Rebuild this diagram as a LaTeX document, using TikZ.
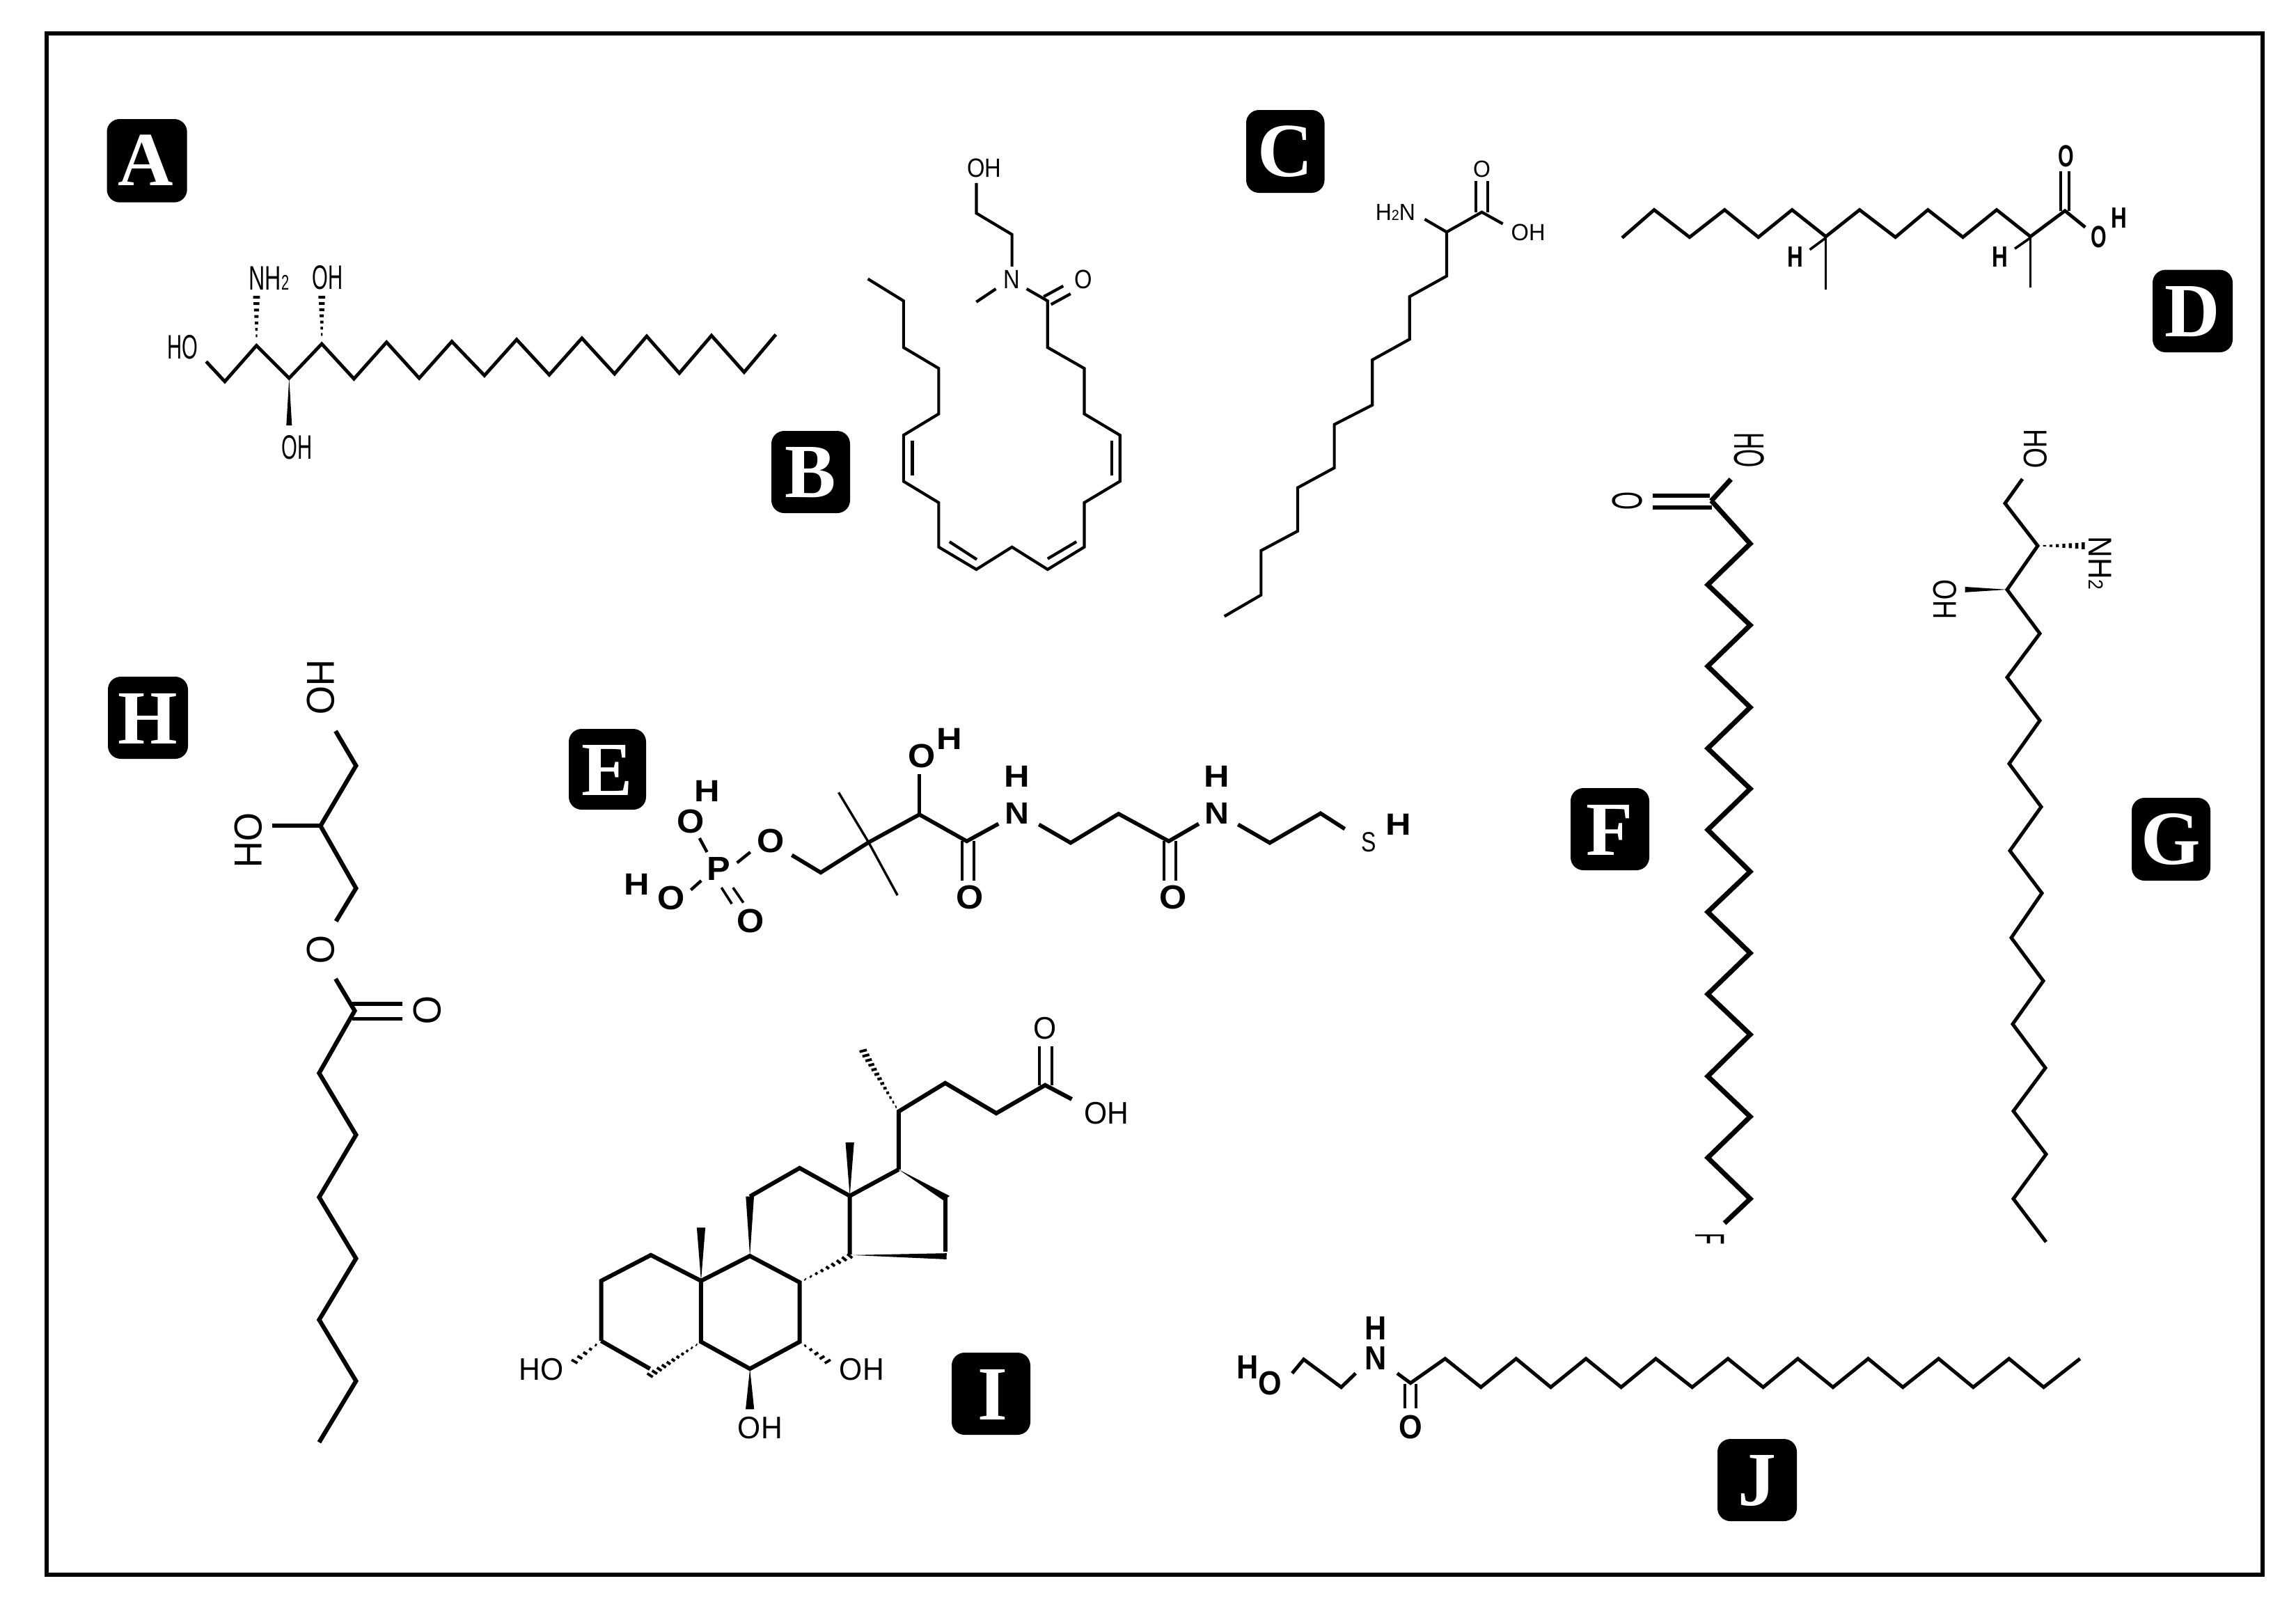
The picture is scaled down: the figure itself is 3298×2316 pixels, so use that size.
\documentclass[tikz,border=0pt]{standalone}
\usepackage{fontspec}
\usetikzlibrary{calc}
\setmainfont{Liberation Sans}
\newfontfamily\tagfont{Liberation Serif}[Scale=1]
\tikzset{
  zm/.style n args={4}{shift={(#1,#2)},xscale=#3,yscale=#4},
  bond/.style={draw=black,line width={#1*0.25pt},line join=miter,line cap=butt},
  tagbox/.style={fill=black,rounded corners=4.6pt},
  tagtext/.style={text=white,inner sep=0,font=\tagfont\bfseries\fontsize{27.5}{27.5}\selectfont},
  frameline/.style={draw=black,line width=1.7pt}
}
\newcommand\atom[6][0]{\node[inner sep=0,rotate=#1] (#2) at (#3) {\fontsize{#4}{#4}\selectfont\scalebox{#5}[1]{#6}};}
\newcommand\wedgebd[3]{%
  \coordinate (wa) at (#1);\coordinate (wb) at (#2);
  \fill[black] (wa) -- ($(wb)!#3pt!90:(wa)$) -- ($(wb)!#3pt!-90:(wa)$) -- cycle;}
\newcommand\hashbd[5]{%
  \coordinate (ha) at (#1);\coordinate (hb) at (#2);
  \foreach \ti in {1,...,#4}{%
    \pgfmathsetmacro\ff{\ti/#4}%
    \pgfmathsetmacro\hw{\ff*#3+0.2}%
    \coordinate (hp) at ($(ha)!\ff!(hb)$);
    \draw[line width=#5pt,black] ($(hp)!\hw pt!90:(ha)$) -- ($(hp)!\hw pt!-90:(ha)$);
  }}
\begin{document}
\begin{tikzpicture}[x=0.25pt,y=-0.25pt]
\useasboundingbox (0,0) rectangle (3298,2316);
\fill[white] (0,0) rectangle (3298,2316);
\draw[frameline] (67,48) rectangle (3250,2262);

% panel tags
\fill[tagbox] (153.5,171) rectangle (268.7,290.7);  \node[tagtext] (tA) at (209,230) {A};
\fill[tagbox] (1108,619) rectangle (1221,737);      \node[tagtext] (tB) at (1164,679) {B};
\fill[tagbox] (1790,158) rectangle (1902.5,277);    \node[tagtext] (tC) at (1846,218) {C};
\fill[tagbox] (3092,387.6) rectangle (3207,506);    \node[tagtext] (tD) at (3149,448) {D};
\fill[tagbox] (817,1047) rectangle (928,1163);      \node[tagtext] (tE) at (872,1106) {E};
\fill[tagbox] (2256,1132) rectangle (2369,1250);    \node[tagtext] (tF) at (2312,1192) {F};
\fill[tagbox] (3062,1146) rectangle (3175,1265);    \node[tagtext] (tG) at (3118,1206) {G};
\fill[tagbox] (155,972) rectangle (270,1090);       \node[tagtext] (tH) at (212,1032) {H};
\fill[tagbox] (1367,1943) rectangle (1480,2061);    \node[tagtext] (tI) at (1426,2003) {I};
\fill[tagbox] (2467,2067) rectangle (2581,2185);    \node[tagtext] (tJ) at (2524,2127) {J};

% ---- A
\begin{scope}[zm={120}{140}{1050/1568}{750/1568}]
\draw[bond=4.8] plot coordinates {(263,793) (303,853) (371,745) (441,843) (511,740) (580,845) (650,735) (720,843) (790,733) (860,835) (929,727) (999,833) (1069,723) (1139,830) (1208,717) (1278,828) (1347,715) (1417,825) (1485,712)};
\hashbd{371,735}{371,600}{1.6}{7}{1}
\hashbd{511,730}{511,600}{1.6}{7}{1}
\wedgebd{441,843}{441,985}{1.5}
\atom{aHO}{213,750}{12.2}{.6}{HO}
\atom{aNH}{398,542}{12.2}{.66}{NH\scalebox{.62}{2}}
\atom{aOHa}{524,540}{12.2}{.6}{OH}
\atom{aOHb}{458,1052}{12.2}{.6}{OH}
\end{scope}

% ---- B and C
\begin{scope}[zm={1180}{120}{1100/1568}{800/1568}]
\draw[bond=4.2] plot coordinates {(95,550) (168,612) (168,743) (240,802) (240,930) (168,990) (168,1120) (240,1180) (240,1305) (317,1368) (390,1305) (463,1368) (538,1305) (538,1180) (611,1120) (611,990) (538,930) (538,802) (463,743) (463,612) (420,578)};
\draw[bond=4.2] (186,1005) -- (186,1103);
\draw[bond=4.2] (594,1005) -- (594,1103);
\draw[bond=4.2] (262,1290) -- (318,1340);
\draw[bond=4.2] (463,1338) -- (522,1290);
\draw[bond=4.2] (455,600) -- (495,570);
\draw[bond=4.2] (470,622) -- (510,592);
\draw[bond=4.2] (357,578) -- (317,615);
\draw[bond=4.2] plot coordinates {(390,515) (390,425) (317,365) (317,280)};
\atom{bOH}{333,238}{9.5}{.86}{OH}
\atom{bN}{389,552}{9.5}{.86}{N}
\atom{bO}{536,552}{9.5}{.86}{O}
% C
\draw[bond=4.2] plot coordinates {(825,1500) (900,1440) (900,1315) (975,1260) (975,1138) (1050,1082) (1050,960) (1128,905) (1128,778) (1204,720) (1204,600) (1280,542) (1280,418) (1352,362) (1395,395)};
\draw[bond=4.2] (1280,418) -- (1235,382);
\draw[bond=3.8] (1340,362) -- (1340,275);
\draw[bond=3.8] (1364,362) -- (1364,275);
\atom{cN}{1175,362}{8.4}{.95}{H\scalebox{.62}{2}N}
\atom{cO}{1352,240}{8.4}{.95}{O}
\atom{cOH}{1447,420}{8.4}{.97}{OH}
\end{scope}

% ---- D
\begin{scope}[zm={2250}{180}{950/1568}{700/1568}]
\draw[bond=4.8] plot coordinates {(132,362) (208,272) (292,360) (375,272) (455,360) (535,272) (615,358) (695,272) (780,360) (857,272) (940,360) (1020,272) (1100,358) (1182,275) (1230,328)};
\draw[bond=3.6] (1172,275) -- (1172,148);
\draw[bond=3.6] (1192,275) -- (1192,148);
\draw[bond=3.2] (615,358) -- (615,528);
\draw[bond=3.2] (1100,358) -- (1100,523);
\draw[bond=3.6] (615,362) -- (577,400);
\draw[bond=3.6] (1100,362) -- (1063,397);
\atom{dO}{1184,100}{11}{.66}{\bfseries O}
\atom{dOb}{1262,360}{11}{.66}{\bfseries O}
\atom{dH}{1310,298}{10.5}{.75}{\bfseries H}
\atom{dHa}{543,424}{10.5}{.75}{\bfseries H}
\atom{dHb}{1028,424}{10.5}{.75}{\bfseries H}
\end{scope}

% ---- E
\begin{scope}[zm={800}{1000}{1300/1568}{1/3}]
\atom{eP}{280,745}{12}{1.05}{\bfseries P}
\atom{eOa}{232,540}{12}{1.05}{\bfseries O}
\atom{eHa}{260,410}{11}{1.15}{\bfseries H}
\atom{eOb}{370,625}{12}{1.05}{\bfseries O}
\atom{eOc}{198,870}{12}{1.05}{\bfseries O}
\atom{eHb}{138,810}{11}{1.15}{\bfseries H}
\atom{eOd}{335,968}{12}{1.05}{\bfseries O}
\draw[bond=4.4] (247,612) -- (260,672);
\draw[bond=4.4] (312,718) -- (335,672);
\draw[bond=4.4] (250,795) -- (232,835);
\draw[bond=3.6] (285,825) -- (303,895);
\draw[bond=3.6] (305,825) -- (323,890);
\draw[bond=5.6] plot coordinates {(407,685) (457,760) (540,630) (628,510) (710,625) (765,550)};
\draw[bond=3.4] (540,630) -- (488,415);
\draw[bond=3.4] (540,630) -- (590,858);
\draw[bond=4.4] (628,510) -- (628,335);
\atom{eOe}{632,258}{12}{1.05}{\bfseries O}
\atom{eHc}{680,183}{11}{1.15}{\bfseries H}
\atom{eNa}{797,505}{11}{1.1}{\bfseries N}
\atom{eHd}{797,345}{11}{1.15}{\bfseries H}
\draw[bond=4] (702,625) -- (702,795);
\draw[bond=4] (722,625) -- (722,795);
\atom{eOf}{715,868}{12}{1.05}{\bfseries O}
\draw[bond=5.6] plot coordinates {(835,553) (890,632) (973,507) (1060,625) (1112,550)};
\atom{eNb}{1143,505}{11}{1.1}{\bfseries N}
\atom{eHe}{1143,345}{11}{1.15}{\bfseries H}
\draw[bond=4] (1052,625) -- (1052,795);
\draw[bond=4] (1072,625) -- (1072,795);
\atom{eOg}{1067,868}{12}{1.05}{\bfseries O}
\draw[bond=5.6] plot coordinates {(1180,553) (1235,632) (1323,505) (1365,572)};
\atom{eS}{1407,630}{10}{.8}{S}
\atom{eHf}{1458,552}{11}{1.15}{\bfseries H}
\end{scope}

% ---- F and G, upper part
\begin{scope}[zm={2250}{600}{950/1568}{700/1568}]
\draw[bond=7] (390,198) -- (343,268);
\draw[bond=6] (205,250) -- (340,250);
\draw[bond=6] (205,290) -- (345,290);
\atom[-90]{fOH}{433,105}{15.3}{.55}{HO}
\atom[-90]{fO}{145,268}{15.3}{.55}{O}
\atom[-90]{gHO}{1112,100}{11.8}{.8}{HO}
\atom[-90]{gOH}{898,585}{11.8}{.8}{OH}
\atom[-90]{gNH}{1265,468}{11.8}{.9}{NH\scalebox{.62}{2}}
\hashbd{1118,412}{1225,412}{2.5}{7}{1.1}
\wedgebd{1045,553}{945,553}{2.2}
\end{scope}

% F chain in image coordinates
\draw[bond=7] plot coordinates {(2458,719) (2514,781) (2453,840) (2514,898) (2453,957) (2514,1016) (2453,1075) (2514,1133) (2453,1192) (2514,1252) (2453,1310) (2514,1369) (2453,1428) (2514,1486) (2453,1546) (2514,1604) (2453,1663) (2514,1722) (2477,1757)};
\begin{scope}[zm={2250}{1280}{950/1568}{560/1568}]
\atom[-90]{fF}{340,1400}{15}{.45}{F}
\end{scope}

% G chain
\draw[bond=5] plot coordinates {(2905,688) (2880,723) (2927,784) (2883,847) (2930,910) (2883,973) (2930,1035) (2886,1097) (2932,1159) (2887,1222) (2933,1283) (2889,1347) (2935,1409) (2891,1471) (2938,1534) (2892,1596) (2939,1658) (2892,1722) (2939,1784)};

% ---- H
\begin{scope}[zm={130}{920}{1000/1568}{1200/1568}]
\draw[bond=6.2] plot coordinates {(552,170) (598,235) (518,348) (598,465) (553,527)};
\draw[bond=6.2] (518,348) -- (410,348);
\draw[bond=6.2] plot coordinates {(552,635) (595,695) (515,812) (598,928) (515,1045) (598,1160) (515,1275) (598,1390) (515,1505)};
\draw[bond=5.6] (590,682) -- (703,682);
\draw[bond=5.6] (590,710) -- (703,710);
\atom[-90]{hHO}{518,88}{14}{.95}{HO}
\atom[-90]{hOH}{355,375}{14}{.95}{OH}
\atom[-90]{hOa}{518,580}{14}{.95}{O}
\atom[-90]{hOb}{758,694}{14}{.95}{O}
\end{scope}

% ---- I
\begin{scope}[zm={720}{1440}{1000/1568}{660/1568}]
\draw[bond=6] plot coordinates {(225,1155) (225,950) (337,862) (450,950) (450,1158) (560,1250) (672,1158) (672,955) (560,865) (450,950)};
\draw[bond=6] (225,1155) -- (335,1250);
\draw[bond=6] plot coordinates {(560,662) (672,565) (785,660) (785,860)};
\draw[bond=6] (785,660) -- (895,570);
\draw[bond=6] (1000,665) -- (1000,850);
\wedgebd{560,865}{560,662}{2.3}
\wedgebd{895,570}{1003,668}{2.6}
\wedgebd{790,862}{1003,866}{2.6}
\wedgebd{785,660}{785,478}{2.4}
\wedgebd{450,950}{450,768}{2.4}
\wedgebd{560,1250}{560,1388}{2.4}
\draw[bond=6] plot coordinates {(895,570) (895,372) (1000,275) (1115,378) (1225,282) (1285,330)};
\draw[bond=4.6] (1212,282) -- (1212,150);
\draw[bond=4.6] (1240,282) -- (1240,150);
\hashbd{450,1158}{335,1272}{2}{11}{.95}
\hashbd{672,955}{785,865}{2}{9}{.95}
\hashbd{225,1155}{165,1225}{2}{5}{.95}
\hashbd{672,1158}{735,1225}{2}{5}{.95}
\hashbd{895,372}{815,165}{2}{13}{.95}
\atom{iO}{1225,88}{11.2}{.95}{O}
\atom{iOHa}{1363,378}{11.2}{.95}{OH}
\atom{iHO}{90,1253}{11.2}{.95}{HO}
\atom{iOHb}{812,1253}{11.2}{.95}{OH}
\atom{iOHc}{583,1452}{11.2}{.95}{OH}
\end{scope}

% ---- J
\begin{scope}[zm={1740}{1850}{1300/1568}{1/3}]
\draw[bond=5] plot coordinates {(140,368) (160,308) (225,428) (250,368)};
\draw[bond=5] plot coordinates {(322,368) (345,410) (405,305) (467,428) (528,305) (588,428) (649,305) (710,428) (770,305) (833,428) (895,305) (956,428) (1016,305) (1077,428) (1138,305) (1198,428) (1260,305) (1320,428) (1382,305) (1442,428) (1505,305)};
\draw[bond=3.8] (335,415) -- (335,518);
\draw[bond=3.8] (355,415) -- (355,518);
\atom{jH}{63,343}{12}{.9}{\bfseries H}
\atom{jO}{102,410}{12}{.9}{\bfseries O}
\atom{jN}{285,303}{12}{.9}{\bfseries N}
\atom{jHb}{285,175}{12}{.9}{\bfseries H}
\atom{jOb}{345,600}{12}{.9}{\bfseries O}
\end{scope}
\end{tikzpicture}
\end{document}
